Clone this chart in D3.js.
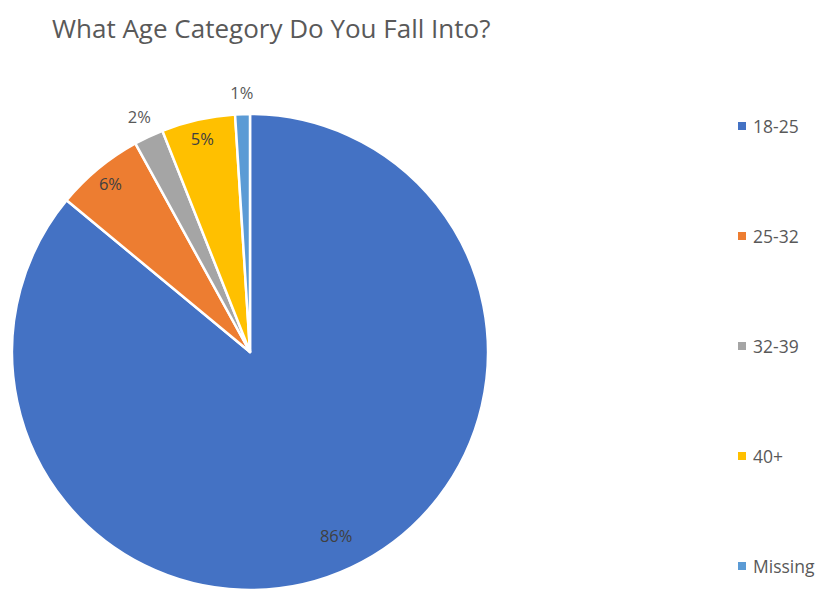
<!DOCTYPE html>
<html>
<head>
<meta charset="utf-8">
<script src="https://cdn.jsdelivr.net/npm/d3@7"></script>
<style>
  html, body { margin: 0; padding: 0; background: #fff; }
  svg { display: block; }
</style>
</head>
<body>
<svg id="chart" width="828" height="590"></svg>
<script>
// Age categories and their share of respondents (%)
const categories = ["18-25", "25-32", "32-39", "40+", "Missing"];
const shares = [86, 6, 2, 5, 1];
const colors = ["#4472C4", "#ED7D31", "#A5A5A5", "#FFC000", "#5B9BD5"];

const svg = d3.select("#chart");
const font = "'Open Sans', 'Liberation Sans', sans-serif";

svg.append("text")
  .attr("x", 52).attr("y", 38)
  .attr("font-family", font)
  .attr("font-size", 26)
  .attr("fill", "#595959")
  .text("What Age Category Do You Fall Into?");

const cx = 250, cy = 352, radius = 238;
const data = categories.map((c, i) => ({ category: c, value: shares[i] }));

const pie = d3.pie().value(d => d.value).sort(null);
const arc = d3.arc().innerRadius(0).outerRadius(radius);
const color = d3.scaleOrdinal().domain(categories).range(colors);

const g = svg.append("g").attr("transform", `translate(${cx},${cy})`);
const arcs = pie(data);

g.selectAll("path.slice")
  .data(arcs)
  .join("path")
  .attr("class", "slice")
  .attr("d", arc)
  .attr("fill", d => color(d.data.category))
  .attr("stroke", "#fff")
  .attr("stroke-width", 2.5)
  .attr("stroke-linejoin", "round");

// Large slices get their label inside, thin ones just outside the rim
function labelPos(d) {
  const a = (d.startAngle + d.endAngle) / 2;
  let r;
  if (d.data.value >= 50) r = radius * 0.85;
  else if (d.data.value >= 3) r = radius * 0.92;
  else r = radius + 22;
  return [Math.sin(a) * r, -Math.cos(a) * r];
}

g.selectAll("text.lbl")
  .data(arcs)
  .join("text")
  .attr("class", "lbl")
  .attr("transform", d => `translate(${labelPos(d)})`)
  .attr("text-anchor", "middle")
  .attr("dominant-baseline", "central")
  .attr("font-family", font)
  .attr("font-size", 16.5)
  .attr("fill", d => d.data.value >= 3 ? "#404040" : "#595959")
  .text(d => d.data.value + "%");

// Legend
const legendY = d3.scalePoint().domain(categories).range([126, 566]);
const legend = svg.append("g");
const items = legend.selectAll("g.item")
  .data(categories)
  .join("g")
  .attr("class", "item")
  .attr("transform", d => `translate(738,${legendY(d)})`);

items.append("rect")
  .attr("x", 0).attr("y", -4)
  .attr("width", 8).attr("height", 8)
  .attr("fill", d => color(d));

items.append("text")
  .attr("x", 15).attr("y", 0)
  .attr("dominant-baseline", "central")
  .attr("font-family", font)
  .attr("font-size", 17.5)
  .attr("fill", "#595959")
  .text(d => d);
</script>
</body>
</html>
